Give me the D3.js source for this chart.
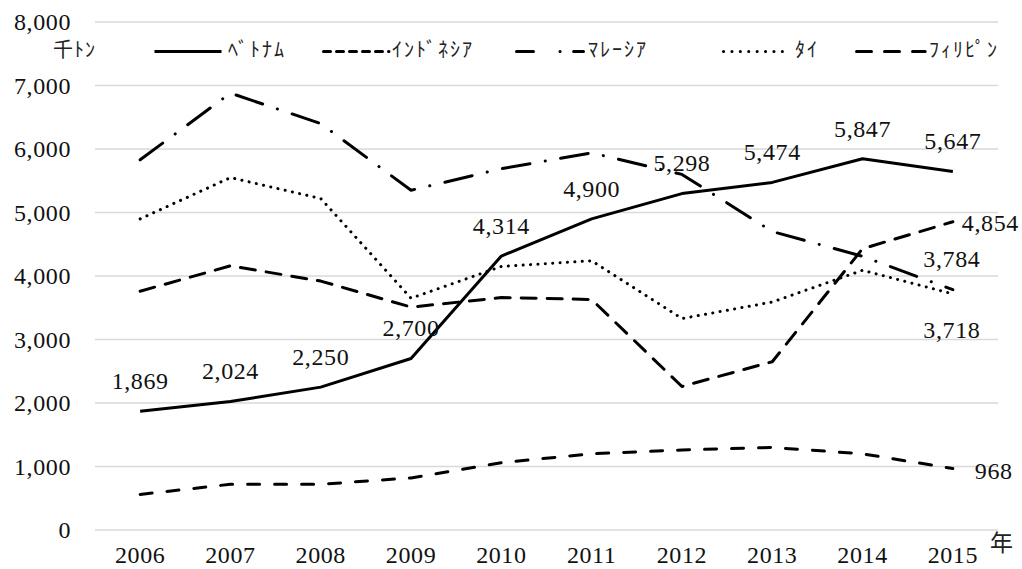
<!DOCTYPE html>
<html>
<head>
<meta charset="utf-8">
<script src="https://cdn.jsdelivr.net/npm/d3@7"></script>
<style>
  html, body { margin: 0; padding: 0; background: #fff; }
  svg { display: block; }
</style>
</head>
<body>
<svg id="chart" width="1022" height="569"></svg>
<script>
// Years on the horizontal axis
const years = [2006, 2007, 2008, 2009, 2010, 2011, 2012, 2013, 2014, 2015];

// Series values (千トン)
const vietnam     = [1869, 2024, 2250, 2700, 4314, 4900, 5298, 5474, 5847, 5647];
const indonesia   = [3760, 4160, 3920, 3510, 3660, 3630, 2260, 2650, 4430, 4854];
const malaysia    = [5830, 6880, 6400, 5350, 5690, 5940, 5600, 4700, 4310, 3784];
const thailand    = [4900, 5550, 5220, 3650, 4150, 4240, 3330, 3590, 4090, 3718];
const philippines = [560, 720, 720, 820, 1060, 1200, 1260, 1300, 1200, 968];

// Series names as shown in the legend
const seriesNames = ["ﾍﾞﾄﾅﾑ", "ｲﾝﾄﾞﾈｼｱ", "ﾏﾚｰｼｱ", "ﾀｲ", "ﾌｨﾘﾋﾟﾝ"];

// Value-axis ticks
const yTicks = [0, 1000, 2000, 3000, 4000, 5000, 6000, 7000, 8000];

const unitLabel = "千ﾄﾝ";
const yearLabel = "年";

const SERIF = "'Liberation Serif', 'Times New Roman', 'DejaVu Serif', serif";
const JP = "'Noto Sans CJK JP', sans-serif";

const svg = d3.select("#chart");
const fmt = d3.format(",");

function numText(sel) {
  return sel.style("font-family", SERIF).style("font-size", "24px")
    .style("letter-spacing", "0.6px").style("fill", "#111");
}
function jpText(sel, size, spacing) {
  return sel.style("font-family", JP).style("font-size", size + "px")
    .style("letter-spacing", spacing + "px").style("fill", "#222");
}

const x = d3.scaleBand().domain(years).range([95, 998]).padding(0);
const cx = d => x(d) + x.bandwidth() / 2;
const y = d3.scaleLinear().domain([0, 8000]).range([530, 22]);

// Gridlines
svg.append("g").selectAll("line").data(yTicks).join("line")
  .attr("x1", 95).attr("x2", 998)
  .attr("y1", d => y(d)).attr("y2", d => y(d))
  .attr("stroke", "#d9d9d9").attr("stroke-width", 1.3);

// Value axis labels
const yAxis = d3.axisLeft(y).tickValues(yTicks).tickFormat(fmt).tickSize(0).tickPadding(0);
const gy = svg.append("g").attr("transform", "translate(71,0)").call(yAxis);
gy.select(".domain").remove();
gy.attr("font-family", null).attr("font-size", null);
numText(gy.selectAll("text").attr("fill", null).attr("dy", "0.33em").attr("x", 0));

// Category axis labels
const xAxis = d3.axisBottom(x).tickSize(0).tickPadding(0);
const gx = svg.append("g").attr("transform", "translate(0,563)").call(xAxis);
gx.select(".domain").remove();
gx.attr("font-family", null).attr("font-size", null);
numText(gx.selectAll("text").attr("fill", null).attr("dy", null).attr("y", 0));

jpText(svg.append("text").attr("x", 990).attr("y", 551), 23, 0).text(yearLabel);

// Line styles per series
const styles = [
  { data: vietnam,     dash: null },
  { data: indonesia,   dash: "15,11" },
  { data: malaysia,    dash: "28,15.5,0.1,15.5" },
  { data: thailand,    dash: "0.1,7.3" },
  { data: philippines, dash: "12,15" }
];

const line = d3.line().x((d, i) => cx(years[i])).y(d => y(d));

// Draw the dotted / dashed series first, solid series on top
[1, 2, 3, 4, 0].forEach(k => {
  const s = styles[k];
  svg.append("path")
    .datum(s.data)
    .attr("d", line)
    .attr("fill", "none")
    .attr("stroke", "#000")
    .attr("stroke-width", 3)
    .attr("stroke-linecap", k === 0 ? "butt" : "round")
    .attr("stroke-linejoin", "round")
    .attr("stroke-dasharray", s.dash);
});

// Data labels for the solid series (above each point)
numText(svg.append("g").selectAll("text").data(vietnam).join("text")
  .attr("x", (d, i) => cx(years[i]))
  .attr("y", d => y(d) - 30)
  .attr("dy", "0.33em")
  .attr("text-anchor", "middle"))
  .text(d => fmt(d));

// End-point labels for the other series
const last = years.length - 1;
const xe = cx(years[last]);
const endLabels = [
  { v: indonesia[last],   dx: 9,  dy: 1,   anchor: "start" },
  { v: malaysia[last],    dx: -1, dy: -31, anchor: "middle" },
  { v: thailand[last],    dx: -1, dy: 36,  anchor: "middle" },
  { v: philippines[last], dx: 22, dy: 3,   anchor: "start" }
];
numText(svg.append("g").selectAll("text").data(endLabels).join("text")
  .attr("x", d => xe + d.dx)
  .attr("y", d => y(d.v) + d.dy)
  .attr("dy", "0.33em")
  .attr("text-anchor", d => d.anchor))
  .text(d => fmt(d.v));

// Legend
const ly = 51.5;
jpText(svg.append("text").attr("x", 53).attr("y", 50).attr("dy", "0.36em"), 20, 1).text(unitLabel);

const legendItems = [
  { x1: 154.5, x2: 221.5, dash: null,                  cap: "butt",  tx: 228 },
  { x1: 323.5, x2: 389,   dash: "7,6",                 cap: "round", tx: 392 },
  { x1: 516.5, x2: 583.5, dash: "17,26.5,0.1,13.5,40", cap: "round", tx: 588 },
  { x1: 723.5, x2: 790,   dash: "0.1,8.3",             cap: "round", tx: 795 },
  { x1: 856.5, x2: 925.2, dash: "15,13",               cap: "round", tx: 929 }
];
const lg = svg.append("g");
legendItems.forEach((it, i) => {
  lg.append("line")
    .attr("x1", it.x1).attr("x2", it.x2).attr("y1", ly).attr("y2", ly)
    .attr("stroke", "#000").attr("stroke-width", 3)
    .attr("stroke-linecap", it.cap)
    .attr("stroke-dasharray", it.dash);
  jpText(lg.append("text").attr("x", it.tx).attr("y", 50).attr("dy", "0.36em"), 20, 2)
    .text(seriesNames[i]);
});
</script>
</body>
</html>
